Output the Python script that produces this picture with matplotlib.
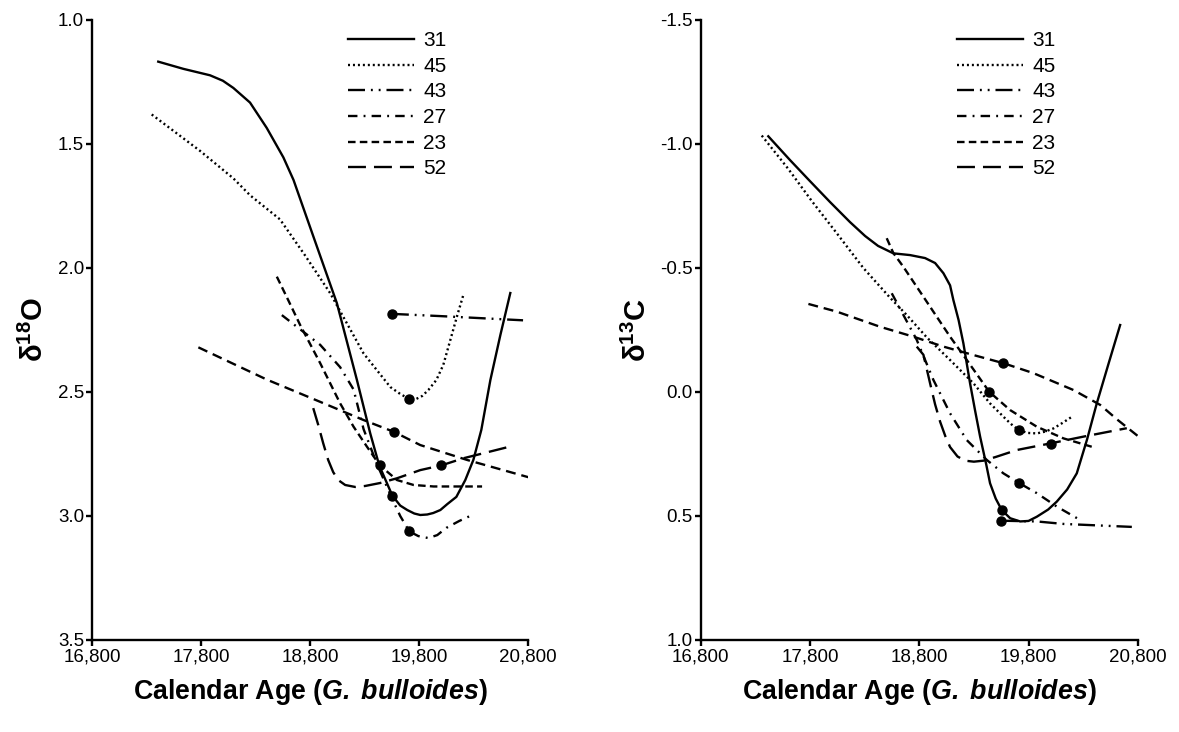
import matplotlib
matplotlib.use('Agg')
import matplotlib.pyplot as plt
from matplotlib.ticker import FixedLocator, FuncFormatter

plt.rcParams['font.family'] = ['Liberation Sans', 'DejaVu Sans']
plt.rcParams['axes.unicode_minus'] = False
plt.rcParams['mathtext.fontset'] = 'custom'
plt.rcParams['mathtext.rm'] = 'Liberation Sans'
plt.rcParams['mathtext.bf'] = 'Liberation Sans:bold'
plt.rcParams['mathtext.it'] = 'Liberation Sans:italic'
plt.rcParams['mathtext.bfit'] = 'Liberation Sans:italic:bold'

# core labels, in legend order
cores = ['31', '45', '43', '27', '23', '52']

# ---- d18O records (calendar age, per mil) ----
o18_31_age = [17407, 17637, 17882, 18000, 18096, 18249, 18402, 18555, 18648, 18831, 19046, 19230,
              19352, 19435, 19555, 19627, 19692, 19756, 19811, 19875, 19930, 19995, 20059, 20142,
              20224, 20298, 20371, 20454, 20546, 20637]
o18_31 = [1.168, 1.197, 1.223, 1.245, 1.274, 1.333, 1.435, 1.554, 1.645, 1.874, 2.142, 2.452,
          2.667, 2.797, 2.918, 2.958, 2.976, 2.990, 2.996, 2.994, 2.988, 2.976, 2.952, 2.923,
          2.855, 2.774, 2.653, 2.452, 2.270, 2.101]
o18_45_age = [17347, 17791, 18097, 18250, 18524, 18755, 18985, 19290, 19536, 19627, 19710, 19774,
              19829, 19885, 19958, 20022, 20087, 20151, 20206]
o18_45 = [1.381, 1.528, 1.639, 1.707, 1.804, 1.950, 2.102, 2.344, 2.480, 2.508, 2.528, 2.528,
          2.516, 2.492, 2.452, 2.391, 2.290, 2.190, 2.109]
o18_43_age = [19550, 19995, 20754]
o18_43 = [2.185, 2.194, 2.211]
o18_27_age = [18541, 18755, 18893, 19076, 19199, 19291, 19413, 19563, 19627, 19710, 19793, 19885,
              19967, 20050, 20169, 20288]
o18_27 = [2.190, 2.263, 2.310, 2.400, 2.490, 2.650, 2.790, 2.940, 3.000, 3.062, 3.081, 3.089,
          3.077, 3.048, 3.020, 2.996]
o18_23_age = [18495, 18600, 18709, 18893, 19076, 19199, 19321, 19440, 19597, 19750, 19933, 20378]
o18_23 = [2.035, 2.130, 2.230, 2.384, 2.546, 2.640, 2.720, 2.796, 2.855, 2.875, 2.881, 2.881]
o18_52_age = [18829, 18875, 18920, 18966, 19012, 19058, 19122, 19214, 19305, 19443, 19597, 19811,
              20004, 20209, 20653]
o18_52 = [2.565, 2.633, 2.706, 2.774, 2.823, 2.855, 2.875, 2.883, 2.879, 2.867, 2.848, 2.815,
          2.796, 2.767, 2.718]
o18_trend_age = [17775, 18403, 18894, 19290, 19571, 19811, 20240, 20806]
o18_trend = [2.320, 2.450, 2.540, 2.613, 2.661, 2.714, 2.774, 2.844]

# ---- d13C records ----
c13_31_age = [17418, 17617, 17800, 17983, 18166, 18304, 18423, 18563, 18716, 18853, 18945, 19021,
              19082, 19112, 19160, 19204, 19265, 19311, 19357, 19412, 19448, 19500, 19555, 19632,
              19723, 19800, 19876, 19980, 20059, 20154, 20242, 20337, 20425, 20530, 20639]
c13_31 = [-1.031, -0.935, -0.850, -0.766, -0.685, -0.629, -0.589, -0.559, -0.552, -0.540, -0.520, -0.479,
          -0.430, -0.371, -0.290, -0.196, -0.035, 0.075, 0.180, 0.290, 0.368, 0.430, 0.476, 0.509,
          0.522, 0.520, 0.503, 0.474, 0.442, 0.393, 0.328, 0.190, 0.046, -0.110, -0.270]
c13_45_age = [17358, 17600, 17816, 18045, 18288, 18533, 18686, 18869, 19082, 19296, 19448, 19601,
              19660, 19710, 19790, 19876, 19950, 20028, 20110, 20197]
c13_45 = [-1.034, -0.900, -0.770, -0.640, -0.500, -0.380, -0.310, -0.220, -0.129, -0.035, 0.046, 0.113,
          0.137, 0.153, 0.165, 0.167, 0.160, 0.147, 0.125, 0.100]
c13_43_age = [19550, 19876, 20120, 20746]
c13_43 = [0.519, 0.522, 0.532, 0.544]
c13_27_age = [18548, 18777, 18930, 19082, 19235, 19418, 19570, 19710, 19876, 20059, 20288]
c13_27 = [-0.398, -0.210, -0.048, 0.086, 0.194, 0.274, 0.328, 0.366, 0.408, 0.462, 0.520]
c13_23_age = [18502, 18563, 18654, 18838, 19082, 19235, 19440, 19632, 19876, 20120, 20380]
c13_23 = [-0.620, -0.560, -0.505, -0.384, -0.223, -0.129, -0.001, 0.073, 0.140, 0.187, 0.221]
c13_52_age = [18777, 18838, 18870, 18899, 18945, 18991, 19040, 19082, 19150, 19219, 19300, 19387,
              19500, 19693, 20004, 20303, 20700]
c13_52 = [-0.183, -0.150, -0.090, -0.035, 0.050, 0.120, 0.180, 0.222, 0.260, 0.277, 0.281, 0.277,
          0.262, 0.234, 0.207, 0.180, 0.146]
c13_trend_age = [17785, 18045, 18441, 18746, 19021, 19296, 19571, 19845, 20211, 20456, 20609, 20822]
c13_trend = [-0.355, -0.324, -0.263, -0.223, -0.183, -0.149, -0.116, -0.076, -0.008, 0.052, 0.110, 0.185]

# marked sample on each record (31, 45, 43, 27, 23, 52, trend)
mark_age = [19555, 19710, 19550, 19710, 19440, 20004, 19571]
mark_o18 = [2.918, 2.527, 2.185, 3.062, 2.796, 2.796, 2.661]
mark_c13 = [0.476, 0.153, 0.519, 0.366, -0.001, 0.209, -0.116]

age_ticks = [16800, 17800, 18800, 19800, 20800]
o18_ticks = [1.0, 1.5, 2.0, 2.5, 3.0, 3.5]
c13_ticks = [-1.5, -1.0, -0.5, 0.0, 0.5, 1.0]

line_styles = {
    '31': '-',
    '45': (0, (0.85, 1.25)),
    '43': (0, (7.2, 2.5, 0.8, 2.5, 0.8, 2.5)),
    '27': (0, (4.0, 2.6, 0.8, 2.6)),
    '23': (0, (3.2, 1.8)),
    '52': (0, (7.6, 3.4)),
}
trend_style = (0, (4.2, 2.5))
LW = 1.7

o18_series = {'31': (o18_31_age, o18_31), '45': (o18_45_age, o18_45), '43': (o18_43_age, o18_43),
              '27': (o18_27_age, o18_27), '23': (o18_23_age, o18_23), '52': (o18_52_age, o18_52)}
c13_series = {'31': (c13_31_age, c13_31), '45': (c13_45_age, c13_45), '43': (c13_43_age, c13_43),
              '27': (c13_27_age, c13_27), '23': (c13_23_age, c13_23), '52': (c13_52_age, c13_52)}


def draw_panel(ax, series, trend_age, trend_val, mark_val, ylim, yticks, ylabel):
    for core in cores:
        x, y = series[core]
        ax.plot(x, y, color='black', lw=LW, linestyle=line_styles[core], label=core,
                dash_capstyle='butt', solid_joinstyle='round')
    ax.plot(trend_age, trend_val, color='black', lw=LW, linestyle=trend_style)
    ax.plot(mark_age, mark_val, 'o', color='black', ms=6.5, zorder=5)

    ax.set_xlim(16800, 20800)
    ax.set_ylim(*ylim)
    ax.xaxis.set_major_locator(FixedLocator(age_ticks))
    ax.xaxis.set_major_formatter(FuncFormatter(lambda v, _: f'{int(v):,}'))
    ax.yaxis.set_major_locator(FixedLocator(yticks))
    ax.yaxis.set_major_formatter(FuncFormatter(lambda v, _: f'{v:.1f}'))

    for side in ('top', 'right'):
        ax.spines[side].set_visible(False)
    for side in ('left', 'bottom'):
        ax.spines[side].set_linewidth(1.7)
    ax.tick_params(direction='out', length=4.3, width=1.7, labelsize=13.5)
    ax.tick_params(axis='x', pad=2)
    ax.tick_params(axis='y', pad=1.5)

    ax.set_xlabel(r'Calendar Age ($\mathbfit{G.\;bulloides}$)', fontsize=19.3,
                  fontweight='bold', labelpad=8)
    ax.set_ylabel(ylabel, fontsize=21, labelpad=6)

    ax.legend(loc='upper left', bbox_to_anchor=(0.587, 0.982), frameon=False, fontsize=15,
              handlelength=3.17, handletextpad=0.43, labelspacing=0.32, borderpad=0,
              borderaxespad=0)


fig = plt.figure(figsize=(11.79, 7.32), dpi=100)
ax1 = fig.add_axes([0.0781, 0.1257, 0.3698, 0.8470])
ax2 = fig.add_axes([0.5944, 0.1257, 0.3706, 0.8470])

draw_panel(ax1, o18_series, o18_trend_age, o18_trend, mark_o18, (3.5, 1.0), o18_ticks,
           r'$\mathbf{\delta^{18}O}$')
draw_panel(ax2, c13_series, c13_trend_age, c13_trend, mark_c13, (1.0, -1.5), c13_ticks,
           r'$\mathbf{\delta^{13}C}$')

fig.savefig('out.png', dpi=100, facecolor='white')
